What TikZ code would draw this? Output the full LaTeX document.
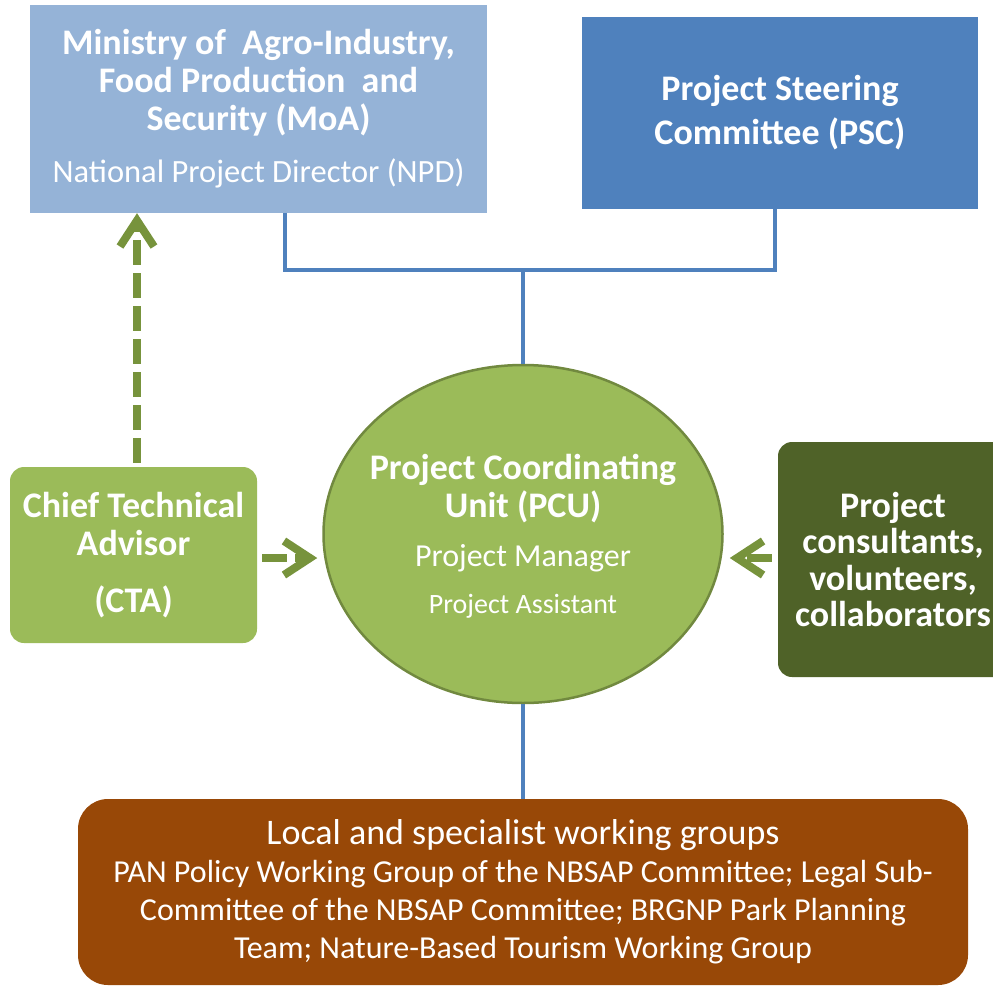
\documentclass[tikz,border=0pt]{standalone}
\usepackage{fontspec}
\setmainfont{Carlito}
\usetikzlibrary{arrows.meta,positioning,shapes.geometric}
\definecolor{MoaBlue}{HTML}{95B3D7}
\definecolor{SteerBlue}{HTML}{4F81BD}
\definecolor{LeafGreen}{HTML}{9BBB59}
\definecolor{LeafEdge}{HTML}{71893F}
\definecolor{FeedGreen}{HTML}{77933C}
\definecolor{DarkOlive}{HTML}{4F6228}
\definecolor{Rust}{HTML}{984807}

\begin{document}
\begin{tikzpicture}[x=1pt,y=-1pt,
    panel/.style={inner sep=0pt,text=white,align=center,
                  font=\bfseries\fontsize{36}{38}\selectfont},
    link/.style={draw=SteerBlue,line width=4pt},
    feed/.style={draw=FeedGreen,line width=8pt,dash pattern=on 25pt off 8pt,
                 -{Straight Barb[length=26pt,width=34pt]}}]
    \useasboundingbox (0,0) rectangle (993,988);
    \clip (0,0) rectangle (993,988);
    % top row
    \node[panel,fill=MoaBlue,minimum width=457,minimum height=208] (moa) at (258.5,109)
        {Ministry of\ \ Agro-Industry,\\Food Production\ \ and\\Security (MoA)\\[14pt]
         {\mdseries\fontsize{32.5}{34}\selectfont National Project Director (NPD)}};
    \node[panel,fill=SteerBlue,minimum width=396,minimum height=192] (psc) at (780,113)
        {Project Steering\\[6pt]Committee (PSC)};
    % centre unit
    \node[ellipse,fill=LeafGreen,draw=LeafEdge,line width=2.5pt,
          minimum width=399,minimum height=338] (pcu) at (523,534) {};
    \node[panel] (pcutext) at ([yshift=-2pt]pcu.center)
        {Project Coordinating\\Unit (PCU)\\[11pt]
         {\mdseries\fontsize{32}{34}\selectfont Project Manager}\\[9pt]
         {\mdseries\fontsize{28}{30}\selectfont Project Assistant}};
    % side boxes
    \node[panel,fill=LeafGreen,rounded corners=14pt,minimum width=247,minimum height=176]
        (cta) at (133.5,555) {Chief Technical\\Advisor\\[19pt](CTA)};
    \node[panel,fill=DarkOlive,rounded corners=14pt,minimum width=230,minimum height=235]
        (consult) at (893,559.5) {Project\\[-1.5pt]consultants,\\[-1.5pt]volunteers,\\[-1.5pt]collaborators};
    % working groups
    \node[panel,fill=Rust,rounded corners=30pt,minimum width=890,minimum height=186,
          font=\mdseries\fontsize{32}{38}\selectfont] (groups) at (523,892)
        {{\fontsize{36}{38}\selectfont Local and specialist working groups}\\
         PAN Policy Working Group of the NBSAP Committee; Legal Sub-\\
         Committee of the NBSAP Committee; BRGNP Park Planning\\
         Team; Nature-Based Tourism Working Group};
    % reporting lines
    \coordinate (hub) at (523,270);
    \draw[link] ([xshift=26.5pt]moa.south) |- (hub) -| ([xshift=-5pt]psc.south);
    \draw[link] (hub) -- (pcu);
    \draw[link] (pcu) -- (groups);
    % advisory links
    \draw[feed,shorten <=4pt] ([xshift=3.5pt]cta.north) -- ([xshift=3.5pt]cta.north |- moa.south);
    \draw[feed,shorten <=5pt,shorten >=5pt] ([yshift=-3pt]cta.east) -- ([yshift=-3pt]cta.east -| pcu.west);
    \draw[feed,shorten <=6pt] ([yshift=1.5pt]consult.west) -- ([xshift=6pt,yshift=1.5pt]consult.west -| pcu.east);
\end{tikzpicture}
\end{document}
